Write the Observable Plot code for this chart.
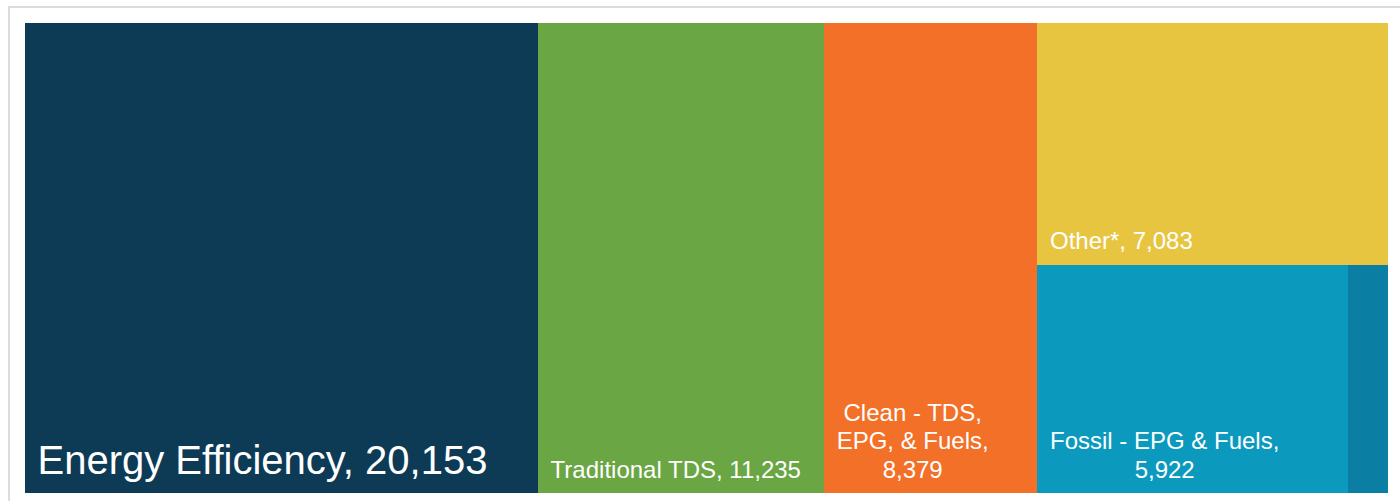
<!DOCTYPE html>
<html>
<head>
<meta charset="utf-8">
<script src="https://cdn.jsdelivr.net/npm/d3@7"></script>
<script src="https://cdn.jsdelivr.net/npm/@observablehq/plot@0.6"></script>
<style>
  html, body { margin: 0; padding: 0; background: #fff; overflow: hidden; }
  #wrap { position: relative; width: 1400px; height: 501px; }
  #frame { position: absolute; left: 8px; top: 6px; width: 1500px; height: 600px;
           border-left: 2px solid #dcdcdc; border-top: 2px solid #dcdcdc; box-sizing: border-box; }
  #chart { position: absolute; left: 0; top: 0; }
  #chart svg { display: block; }
</style>
</head>
<body>
<div id="wrap"><div id="frame"></div><div id="chart"></div></div>
<script>
// ---- data ----
const categories = ["Energy Efficiency", "Traditional TDS", "Clean - TDS, EPG, & Fuels", "Other*", "Fossil - EPG & Fuels", "Unlabeled"];
const values = [20153, 11235, 8379, 7083, 5922, 762];
const groups = ["", "", "", "rest", "rest/fossil", "rest/fossil"];
const colors = ["#0d3a55", "#6aa644", "#f37029", "#e8c540", "#0b9abe", "#0a7fa3"];
const showLabel = [true, true, true, true, true, false];
// label line breaks (text only)
const labelLines = [
  null, null,
  ["Clean - TDS,", "EPG, & Fuels,"],
  null,
  ["Fossil - EPG & Fuels,"],
  null
];

// ---- layout ----
const W = 1400, H = 501;
const M = {top: 23, right: 12, bottom: 8, left: 25};
const innerW = W - M.left - M.right;
const fmt = d3.format(",");

const items = categories.map((name, i) => ({name, value: values[i], group: groups[i], color: colors[i], i}));
const rootData = {children: []};
for (const it of items) {
  let node = rootData;
  if (it.group) for (const g of it.group.split("/")) {
    let c = node.children.find(c => c.key === g);
    if (!c) { c = {key: g, children: []}; node.children.push(c); }
    node = c;
  }
  node.children.push(it);
}
const root = d3.hierarchy(rootData).sum(d => d.value ?? 0);
d3.treemap().tile(d3.treemapSliceDice).size([1, 1]).round(false)(root);
const leaves = root.leaves();

const FONT = "'Liberation Sans', Arial, Helvetica, sans-serif";
const ctx = document.createElement("canvas").getContext("2d");
function textW(s, size) { ctx.font = `${size}px ${FONT}`; return ctx.measureText(s).width; }

function labelText(d) {
  const i = d.data.i;
  const v = fmt(values[i]);
  if (labelLines[i]) return labelLines[i].join("\n") + "\n" + v;
  return `${categories[i]}, ${v}`;
}

const SMALL = 24, BIG = 40, PAD = 12;
const lab = leaves.filter(d => showLabel[d.data.i]);
const big = lab.filter(d => d.data.i === 0);
const startSmall = lab.filter(d => d.data.i !== 0 && !labelLines[d.data.i]);
const centered = lab.filter(d => labelLines[d.data.i]).map(d => {
  const lines = labelText(d).split("\n");
  const lw = d3.max(lines, s => textW(s, SMALL));
  return {d, cx: d.x0 + (PAD + lw / 2) / innerW};
});

const chart = Plot.plot({
  width: W, height: H,
  marginTop: M.top, marginRight: M.right, marginBottom: M.bottom, marginLeft: M.left,
  x: {domain: [0, 1], axis: null},
  y: {domain: [0, 1], reverse: true, axis: null},
  color: {type: "identity"},
  style: {fontFamily: FONT, background: "transparent"},
  marks: [
    Plot.rect(leaves, {x1: d => d.x0, x2: d => d.x1, y1: d => d.y0, y2: d => d.y1, fill: d => d.data.color, shapeRendering: "crispEdges"}),
    Plot.text(big, {x: d => d.x0, y: d => d.y1, text: labelText, textAnchor: "start", lineAnchor: "bottom",
      dx: PAD, dy: -20, fill: "white", fontSize: BIG}),
    Plot.text(startSmall, {x: d => d.x0, y: d => d.y1, text: labelText, textAnchor: "start", lineAnchor: "bottom",
      dx: PAD, dy: -16, fill: "white", fontSize: SMALL}),
    Plot.text(centered, {x: c => c.cx, y: c => c.d.y1, text: c => labelText(c.d), textAnchor: "middle", lineAnchor: "bottom",
      dy: -16, fill: "white", fontSize: SMALL, lineHeight: 1.17})
  ]
});
document.getElementById("chart").appendChild(chart);
</script>
</body>
</html>
